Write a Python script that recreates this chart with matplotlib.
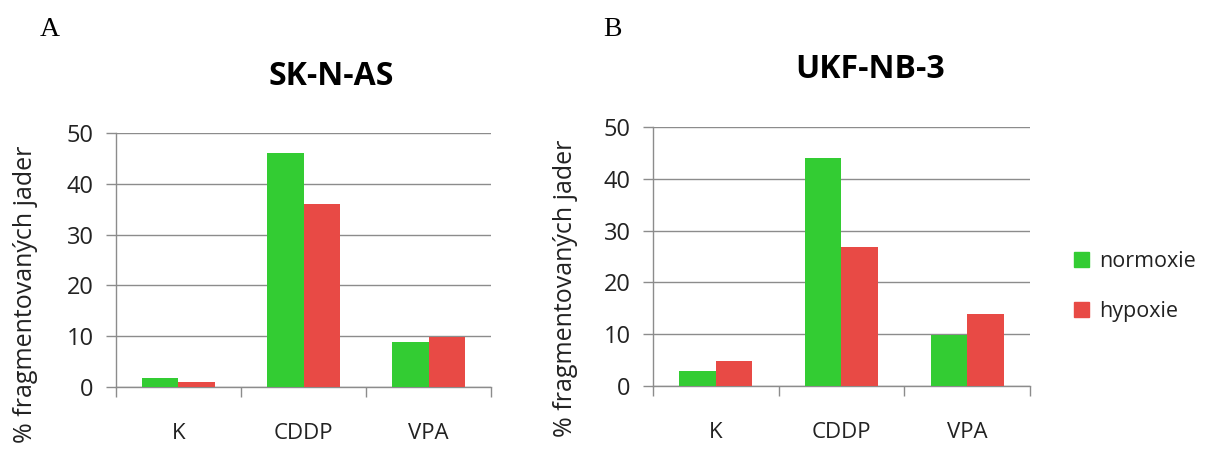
import matplotlib
matplotlib.use("Agg")
import matplotlib.pyplot as plt
import numpy as np
from matplotlib.patches import Patch

plt.rcParams["font.family"] = ["Open Sans", "DejaVu Sans"]

categories = ["K", "CDDP", "VPA"]
series = ["normoxie", "hypoxie"]
skn_normoxie = [1.7, 46.0, 8.8]
skn_hypoxie = [0.9, 36.0, 9.9]
ukf_normoxie = [3.0, 44.0, 9.9]
ukf_hypoxie = [4.8, 26.8, 13.9]
yticks = [0, 10, 20, 30, 40, 50]

GREEN = "#33CC33"
RED = "#E84A45"
GRID = "#8C8C8C"
TXT = "#222222"

fig = plt.figure(figsize=(12.08, 4.51), dpi=100)
ax_a = fig.add_axes([0.096, 0.142, 0.3105, 0.563])
ax_b = fig.add_axes([0.5406, 0.144, 0.312, 0.5745])


def draw_panel(ax, norm, hyp):
    x = np.arange(len(categories))
    w = 0.29
    ax.bar(x - w / 2, norm, w, color=GREEN, zorder=3)
    ax.bar(x + w / 2, hyp, w, color=RED, zorder=3)
    ax.set_xlim(-0.5, len(categories) - 0.5)
    ax.set_ylim(0, 50)
    ax.set_yticks(yticks)
    ax.set_xticks(x)
    ax.set_xticklabels(categories)
    ax.set_xticks(np.arange(-0.5, len(categories)), minor=True)
    ax.tick_params(axis="x", which="major", length=0, pad=26, labelsize=16,
                   colors=TXT)
    ax.tick_params(axis="x", which="minor", length=7, width=1, color=GRID)
    ax.tick_params(axis="y", length=7, width=1, color=GRID, labelsize=17,
                   labelcolor=TXT, pad=9)
    ax.grid(axis="y", color=GRID, lw=1, zorder=0)
    for s in ["top", "right"]:
        ax.spines[s].set_visible(False)
    for s in ["left", "bottom"]:
        ax.spines[s].set_color(GRID)
        ax.spines[s].set_linewidth(1)


draw_panel(ax_a, skn_normoxie, skn_hypoxie)
draw_panel(ax_b, ukf_normoxie, ukf_hypoxie)

# titles sit centred over the whole chart area, not only the plot
fig.text(0.274, 0.831, "SK-N-AS", fontsize=23, fontweight="bold",
         ha="center", va="center")
fig.text(0.720, 0.847, "UKF-NB-3", fontsize=23, fontweight="bold",
         ha="center", va="center")

fig.text(0.021, 0.678, "% fragmentovaných jader", rotation=90, fontsize=18,
         ha="center", va="top", color=TXT)
fig.text(0.4685, 0.69, "% fragmentovaných jader", rotation=90, fontsize=18,
         ha="center", va="top", color=TXT)

fig.text(0.033, 0.935, "A", family="Liberation Serif", fontsize=20,
         ha="left", va="center")
fig.text(0.499, 0.935, "B", family="Liberation Serif", fontsize=20,
         ha="left", va="center")

handles = [Patch(color=GREEN, label=series[0]), Patch(color=RED, label=series[1])]
fig.legend(handles=handles, loc="center left", bbox_to_anchor=(0.889, 0.365),
           frameon=False, fontsize=15.5, handlelength=0.7, handleheight=0.7,
           handletextpad=0.45, labelspacing=1.35, labelcolor=TXT,
           borderpad=0, borderaxespad=0)

fig.savefig("out.png", dpi=100)
